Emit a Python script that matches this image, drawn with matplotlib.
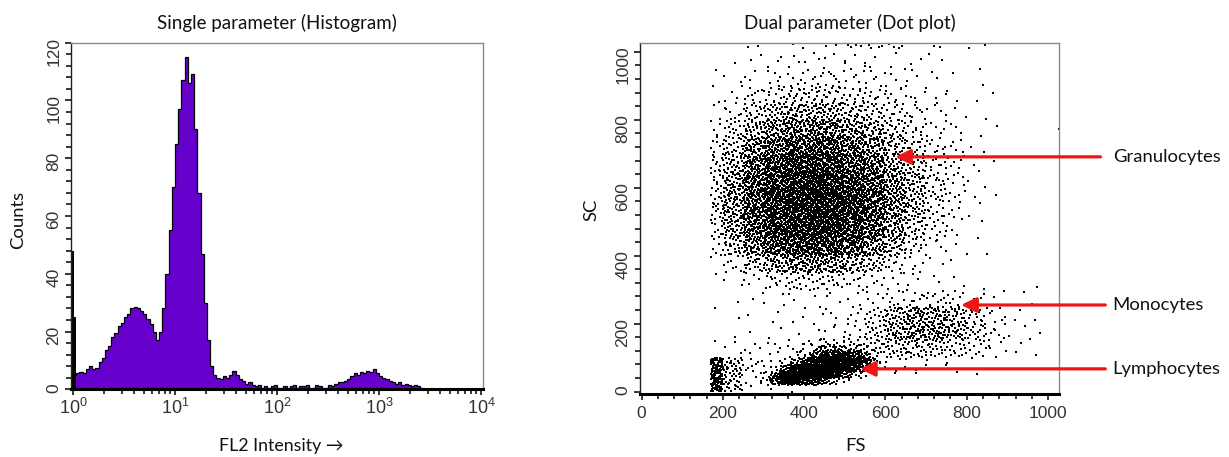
import numpy as np
import matplotlib
matplotlib.use("Agg")
import matplotlib.pyplot as plt
from matplotlib.ticker import MultipleLocator, FixedLocator, FuncFormatter, NullFormatter
from matplotlib import font_manager

# ---------------- data: single parameter histogram ----------------
hist_channels_per_decade = 32
hist_counts = [
    5, 5.5, 6, 5.5, 7, 8, 7, 7.5, 9.5, 11, 13.5, 15, 18, 19.5, 22, 23,
    25, 26, 28, 28.5, 28, 27, 26, 24.5, 22.5, 20, 17, 20, 28, 40, 55, 70,
    85, 97, 107, 115, 106, 109, 90, 68, 47, 30, 17, 8, 5, 4, 3.5, 4.5,
    4, 5, 6.5, 5, 3.5, 3, 2, 2.5, 1.5, 1, 1.5, 0.5, 1, 0.5, 1, 1.5,
    0.5, 0.5, 1, 0.5, 1, 1.5, 0.5, 1, 1, 1.5, 0.5, 0.5, 1.5, 1, 0.5, 0.5,
    1.5, 1, 2, 2.5, 2.5, 3, 3.5, 4.5, 5.5, 5, 6, 5.5, 6.5, 6, 7, 5.5,
    4.5, 4, 3.5, 3, 2.5, 2, 2.5, 1.5, 2, 1.5, 1, 1.5, 1, 0.5, 0, 0,
    0, 0, 0, 0, 0, 0, 0, 0, 0, 0, 0, 0, 0, 0, 0, 0,
]
spike_x = [1.0, 1.045]
spike_counts = [48, 25]

# ---------------- data: dual parameter dot plot (event counts per FS x SC cell) ----------------
fs_edges = [170, 200, 250, 300, 350, 400, 450, 500, 550, 600, 650, 700,
            750, 800, 850, 900, 950, 1000, 1050]
sc_edges = [0, 50, 100, 150, 200, 250, 300, 350, 400, 450, 500, 550, 600,
            650, 700, 750, 800, 850, 900, 950, 1000]
# rows: SC 0-50 (bottom) ... SC 950-1000 (top)
dot_counts = [
    [60, 26, 4, 2, 1, 1, 0, 0, 0, 0, 0, 0, 0, 0, 0, 0, 0, 0],
    [64, 32, 10, 4, 3, 3, 3, 4, 6, 5, 4, 3, 2, 1, 0, 0, 0, 0],
    [1, 3, 4, 5, 6, 8, 8, 11, 17, 22, 22, 20, 15, 10, 5, 2, 1, 1],
    [0, 1, 1, 2, 2, 3, 4, 7, 18, 36, 46, 44, 34, 18, 7, 2, 2, 1],
    [1, 1, 1, 2, 2, 2, 3, 6, 15, 31, 42, 39, 29, 15, 6, 2, 1, 1],
    [0, 1, 2, 2, 3, 3, 3, 3, 5, 8, 9, 10, 8, 5, 2, 1, 1, 0],
    [1, 2, 5, 10, 13, 14, 12, 9, 6, 4, 3, 2, 2, 1, 0, 0, 1, 0],
    [1, 8, 20, 36, 46, 50, 44, 34, 22, 12, 5, 2, 1, 0, 0, 0, 0, 0],
    [5, 25, 50, 76, 90, 95, 87, 70, 48, 28, 12, 5, 2, 1, 0, 0, 0, 0],
    [8, 36, 70, 98, 115, 120, 112, 92, 67, 42, 20, 9, 3, 1, 0, 0, 0, 0],
    [11, 42, 78, 106, 126, 130, 123, 104, 78, 50, 28, 12, 5, 2, 0, 0, 0, 0],
    [12, 42, 78, 106, 123, 129, 120, 100, 78, 53, 30, 13, 6, 2, 1, 0, 0, 0],
    [11, 39, 73, 98, 112, 118, 109, 92, 70, 48, 28, 13, 6, 2, 0, 0, 0, 0],
    [9, 31, 62, 84, 98, 100, 92, 78, 59, 39, 22, 12, 6, 2, 1, 0, 0, 0],
    [7, 22, 48, 67, 78, 81, 73, 62, 45, 28, 16, 9, 5, 2, 0, 0, 0, 0],
    [4, 14, 31, 48, 56, 59, 53, 42, 31, 20, 11, 6, 3, 1, 1, 0, 0, 1],
    [2, 8, 18, 28, 34, 35, 31, 25, 18, 12, 8, 5, 2, 1, 0, 0, 0, 0],
    [2, 4, 9, 13, 16, 17, 16, 13, 10, 8, 5, 3, 2, 1, 1, 0, 0, 0],
    [1, 2, 3, 5, 6, 7, 7, 6, 5, 4, 3, 2, 1, 1, 0, 0, 0, 0],
    [0, 1, 2, 3, 3, 4, 3, 3, 3, 2, 2, 2, 0, 1, 0, 0, 0, 0],
]
# off-scale events piled up at the top of the SC range
sat_sc_edges = [1012, 1022]
sat_counts = [0, 0, 2, 0, 2, 0, 2, 4, 4, 4, 0, 2, 0, 2, 0, 0, 0, 1]

# finer grid for the dense lymphocyte population
lym_fs_edges = [290, 315, 340, 365, 390, 415, 440, 465, 490, 515, 540, 565, 590]
lym_sc_edges = [20, 40, 60, 80, 100, 120, 140, 160]
lym_counts = [
    [4, 18, 34, 40, 34, 22, 12, 5, 2, 0, 0, 0],
    [2, 16, 44, 56, 60, 58, 48, 32, 16, 6, 2, 0],
    [0, 2, 12, 30, 50, 60, 60, 56, 44, 28, 12, 2],
    [0, 0, 2, 8, 20, 38, 52, 58, 54, 44, 24, 4],
    [0, 0, 0, 1, 4, 12, 22, 30, 28, 20, 8, 2],
    [0, 0, 0, 0, 1, 3, 6, 8, 7, 5, 2, 0],
    [0, 0, 0, 0, 1, 1, 2, 2, 2, 1, 0, 0],
]

population_names = ["Granulocytes", "Monocytes", "Lymphocytes"]
population_fs = [624, 786, 537]
population_sc = [691, 255, 67]

# ---------------- styling ----------------
PURPLE = "#6600cc"
RED = "#ee1515"
TICK_GREY = "#333333"
installed = {f.name for f in font_manager.fontManager.ttflist}
tick_family = ["Liberation Sans Narrow", "Liberation Sans", "DejaVu Sans"]
if "Liberation Sans Narrow" not in installed:
    tick_family = ["Liberation Sans", "DejaVu Sans"]
label_family = ["Lato", "DejaVu Sans"]

plt.rcParams["font.family"] = tick_family
plt.rcParams["mathtext.fontset"] = "custom"
plt.rcParams["mathtext.rm"] = tick_family[0]
plt.rcParams["mathtext.it"] = tick_family[0]
plt.rcParams["mathtext.bf"] = tick_family[0]


def halton(idx, base):
    idx = np.asarray(idx, dtype=np.int64).copy()
    f = np.ones(idx.shape)
    r = np.zeros(idx.shape)
    while np.any(idx > 0):
        f /= base
        r += f * (idx % base)
        idx //= base
    return r


def cell_events(xe, ye, counts, start):
    xs, ys = [], []
    k = start
    for r in range(len(ye) - 1):
        for c in range(len(xe) - 1):
            n = counts[r][c]
            k += 1
            if n <= 0:
                continue
            idx = np.arange(n) + k * 97 + 1
            u = halton(idx, 2)
            v = halton(idx, 3)
            xs.append(xe[c] + u * (xe[c + 1] - xe[c]))
            ys.append(ye[r] + v * (ye[r + 1] - ye[r]))
    return np.concatenate(xs), np.concatenate(ys)


def style_axes(ax):
    for side in ("top", "right"):
        ax.spines[side].set_color("#8a8a8a")
        ax.spines[side].set_linewidth(1.0)
    ax.spines["left"].set_color("#222222")
    ax.spines["left"].set_linewidth(1.0)
    ax.spines["bottom"].set_color("black")
    ax.spines["bottom"].set_linewidth(2.2)
    ax.tick_params(which="both", direction="out", color="black", width=1.1,
                   top=False, right=False)
    ax.tick_params(which="major", length=4.5)
    ax.tick_params(which="minor", length=3.5)
    ax.tick_params(axis="both", labelcolor=TICK_GREY, labelsize=12.5, pad=2.5)
    ax.tick_params(axis="y", labelrotation=90)


W, H = 1229, 457
fig = plt.figure(figsize=(W / 100, H / 100), dpi=100)

# ---------------- left: histogram ----------------
ax1 = fig.add_axes([71 / W, (H - 389.3) / H, 411.7 / W, 346.6 / H])
edges = 10.0 ** (np.arange(len(hist_counts) + 1) / hist_channels_per_decade)
ax1.stairs(hist_counts, edges, fill=True, color=PURPLE, linewidth=0)
ax1.stairs(hist_counts, edges, color="black", linewidth=0.9, baseline=None)
ax1.vlines(spike_x, 0, spike_counts, color="black", linewidth=1.4)
ax1.set_xscale("log")
ax1.set_xlim(10 ** (-2 / 102), 10 ** (4 + 1.7 / 102))
ax1.set_ylim(0, 120)
ax1.xaxis.set_major_locator(FixedLocator([1, 10, 100, 1000, 10000]))
ax1.xaxis.set_minor_locator(FixedLocator(
    [m * 10 ** d for d in range(4) for m in range(2, 10)]))
ax1.xaxis.set_minor_formatter(NullFormatter())
ax1.xaxis.set_major_formatter(FuncFormatter(
    lambda v, p: r"$\mathrm{10^{%d}}$" % int(round(np.log10(v)))))
ax1.yaxis.set_major_locator(MultipleLocator(20))
ax1.yaxis.set_minor_locator(MultipleLocator(4))
style_axes(ax1)
ax1.tick_params(axis="x", labelsize=13, pad=1.5)
ax1.set_title("Single parameter (Histogram)", family=label_family,
              fontsize=13.5, color="#111111", pad=10)
fig.text(18 / W, 1 - 220 / H, "Counts", family=label_family, fontsize=13.3,
         rotation=90, ha="center", va="center", color="#111111")
fig.text(281 / W, 1 - 446 / H, "FL2 Intensity \u2192", family=label_family,
         fontsize=12.8, ha="center", va="center", color="#111111")

# ---------------- right: dot plot ----------------
ax2 = fig.add_axes([640 / W, (H - 394) / H, 419 / W, 351.3 / H])
gx, gy = cell_events(fs_edges, sc_edges, dot_counts, 0)
sx, sy = cell_events(fs_edges, sat_sc_edges, [sat_counts], 5000)
lx, ly = cell_events(lym_fs_edges, lym_sc_edges, lym_counts, 9000)
all_fs = np.concatenate([gx, sx, lx])
all_sc = np.concatenate([gy, sy, ly])
ax2.scatter(all_fs, all_sc, s=3.0, marker="s", c="black", linewidths=0,
            antialiased=False)
ax2.set_xlim(-4, 1027)
ax2.set_ylim(-7, 1027)
ax2.xaxis.set_major_locator(MultipleLocator(200))
ax2.xaxis.set_minor_locator(MultipleLocator(40))
ax2.yaxis.set_major_locator(MultipleLocator(200))
ax2.yaxis.set_minor_locator(MultipleLocator(40))
style_axes(ax2)
ax2.tick_params(axis="x", pad=4)
ax2.set_title("Dual parameter (Dot plot)", family=label_family,
              fontsize=13.5, color="#111111", pad=10)
fig.text(591 / W, 1 - 210 / H, "SC", family=label_family, fontsize=13.3,
         rotation=90, ha="center", va="center", color="#111111")
fig.text(855 / W, 1 - 446 / H, "FS", family=label_family, fontsize=13.3,
         ha="center", va="center", color="#111111")

tails = [1129, 1141, 1141]
for name, hx, hy, tx in zip(population_names, population_fs, population_sc, tails):
    ax2.annotate("", xy=(hx, hy), xytext=(tx, hy), xycoords="data",
                 textcoords="data", annotation_clip=False,
                 arrowprops=dict(arrowstyle="-|>,head_length=0.65,head_width=0.32",
                                 color=RED, lw=2.3, shrinkA=0, shrinkB=0,
                                 mutation_scale=14))
    ax2.text(1159, hy, name, family=label_family, fontsize=13.3,
             ha="left", va="center", color="#111111", clip_on=False)

fig.savefig("out.png", dpi=100)
